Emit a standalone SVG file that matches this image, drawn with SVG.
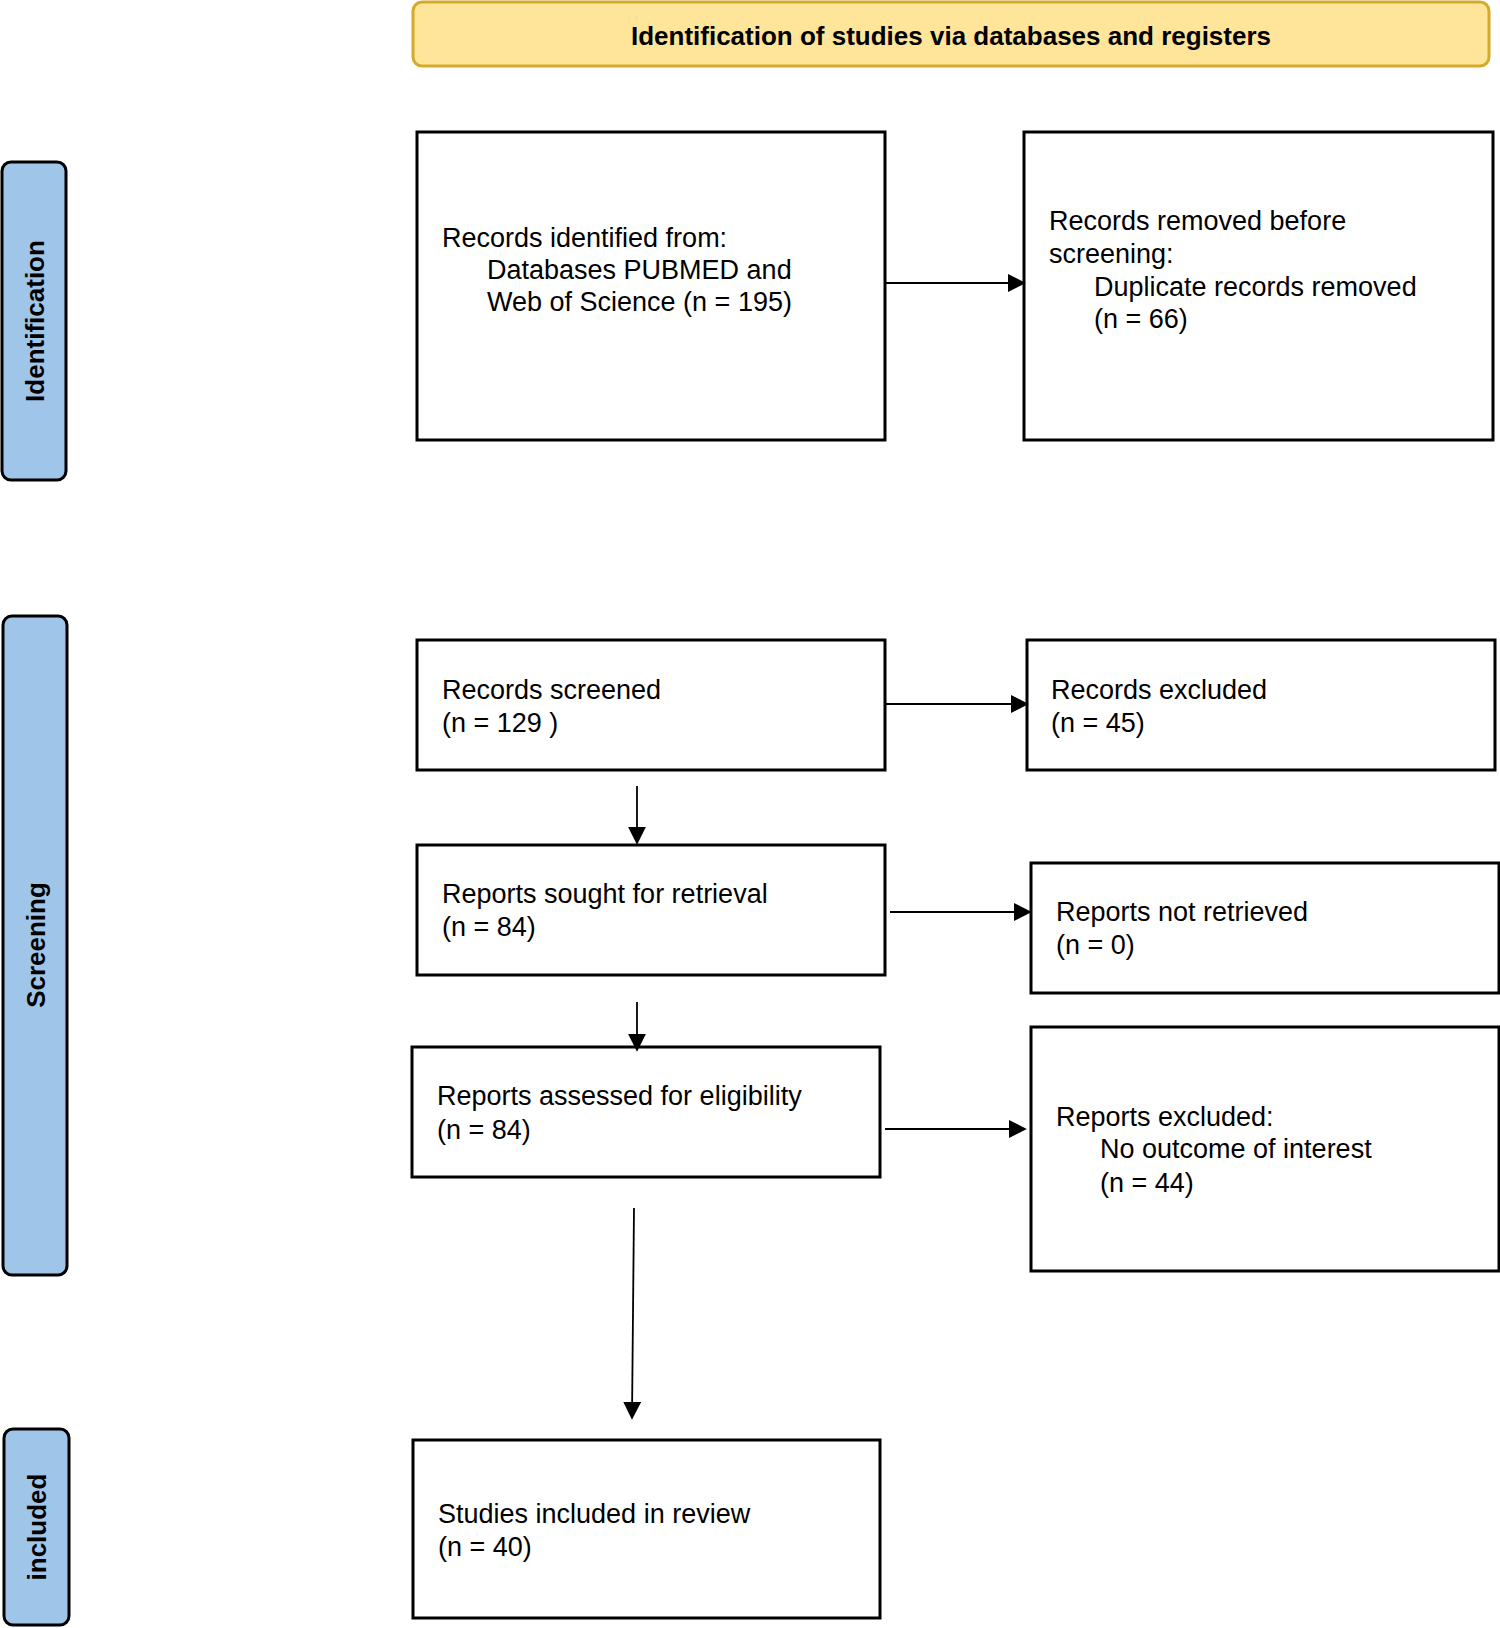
<svg xmlns="http://www.w3.org/2000/svg" width="1500" height="1628" viewBox="0 0 1500 1628">
<style>
text{font-family:"Liberation Sans",Arial,sans-serif;font-size:27px;fill:#000}
.b{fill:#fff;stroke:#000;stroke-width:3}
.side{fill:#9FC5E8;stroke:#000;stroke-width:3}
.st{font-weight:bold;font-size:26px}
.c{stroke:#000;stroke-width:1.8;fill:none;marker-end:url(#a)}
</style>
<defs><marker id="a" markerWidth="10" markerHeight="10" refX="9" refY="5" orient="auto" markerUnits="userSpaceOnUse" viewBox="0 0 10 10"><path d="M0,0L10,5L0,10z" fill="#000"/></marker>
<marker id="a2" viewBox="0 0 10 10" refX="9" refY="5" markerWidth="18" markerHeight="18" orient="auto" markerUnits="userSpaceOnUse"><path d="M0,0L10,5L0,10z"/></marker></defs>
<style>.c{marker-end:url(#a2)}</style>
<g id="header"><rect x="413" y="2" width="1076" height="64" rx="9" fill="#FFE599" stroke="#D6A92A" stroke-width="3"/><text x="951" y="45" text-anchor="middle" class="st">Identification of studies via databases and registers</text></g>
<g id="lab-ident"><rect x="2" y="162" width="64" height="318" rx="9" class="side"/><text class="st" transform="translate(44,321) rotate(-90)" text-anchor="middle">Identification</text></g>
<g id="lab-screen"><rect x="3" y="616" width="64" height="659" rx="9" class="side"/><text class="st" transform="translate(45,945) rotate(-90)" text-anchor="middle">Screening</text></g>
<g id="lab-incl"><rect x="4" y="1429" width="65" height="196" rx="9" class="side"/><text class="st" transform="translate(46,1527) rotate(-90)" text-anchor="middle">included</text></g>
<g id="n1"><rect x="417" y="132" width="468" height="308" class="b"/><text x="442" y="247">Records identified from:</text><text x="487" y="279">Databases PUBMED and</text><text x="487" y="311">Web of Science (n = 195)</text></g>
<g id="n2"><rect x="1024" y="132" width="469" height="308" class="b"/><text x="1049" y="230">Records removed before</text><text x="1049" y="263">screening:</text><text x="1094" y="296">Duplicate records removed</text><text x="1094" y="328">(n = 66)</text></g>
<g id="n3"><rect x="417" y="640" width="468" height="130" class="b"/><text x="442" y="699">Records screened</text><text x="442" y="732">(n = 129 )</text></g>
<g id="n4"><rect x="1027" y="640" width="468" height="130" class="b"/><text x="1051" y="699">Records excluded</text><text x="1051" y="732">(n = 45)</text></g>
<g id="n5"><rect x="417" y="845" width="468" height="130" class="b"/><text x="442" y="903">Reports sought for retrieval</text><text x="442" y="936">(n = 84)</text></g>
<g id="n6"><rect x="1031" y="863" width="468" height="130" class="b"/><text x="1056" y="921">Reports not retrieved</text><text x="1056" y="954">(n = 0)</text></g>
<g id="n7"><rect x="412" y="1047" width="468" height="130" class="b"/><text x="437" y="1105">Reports assessed for eligibility</text><text x="437" y="1139">(n = 84)</text></g>
<g id="n8"><rect x="1031" y="1027" width="468" height="244" class="b"/><text x="1056" y="1126">Reports excluded:</text><text x="1100" y="1158">No outcome of interest</text><text x="1100" y="1192">(n = 44)</text></g>
<g id="n9"><rect x="413" y="1440" width="467" height="178" class="b"/><text x="438" y="1523">Studies included in review</text><text x="438" y="1556">(n = 40)</text></g>
<g id="connectors">
<path class="c" d="M885,283H1024"/>
<path class="c" d="M885,704H1027"/>
<path class="c" d="M637,786V843"/>
<path class="c" d="M890,912H1030"/>
<path class="c" d="M637,1002V1050"/>
<path class="c" d="M885,1129H1025"/>
<path class="c" d="M634,1208L632,1418"/>
</g>
</svg>
